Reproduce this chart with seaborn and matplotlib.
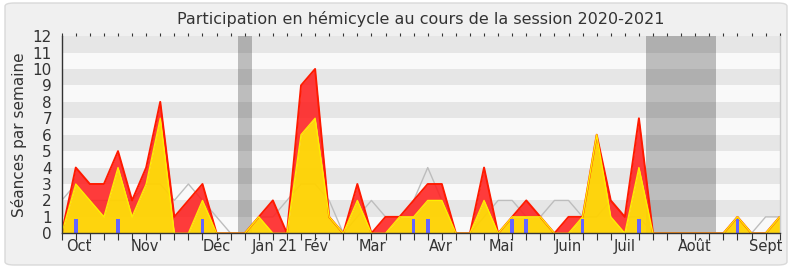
import matplotlib
matplotlib.use("Agg")
import matplotlib.pyplot as plt
from matplotlib.patches import FancyBboxPatch
import numpy as np
import pandas as pd
import seaborn as sns

# ---- data (one value per week, 52 weeks of the 2020-2021 session) ----
total_presence = [0, 4, 3, 3, 5, 2, 4, 8, 1, 2, 3, 0, 0, 0, 1, 2, 0, 9, 10, 1,
                  0, 3, 0, 1, 1, 2, 3, 3, 0, 0, 4, 0, 1, 2, 1, 0, 1, 1, 6, 2,
                  1, 7, 0, 0, 0, 0, 0, 0, 1, 0, 0, 1]
hemicycle_presence = [0, 3, 2, 1, 4, 1, 3, 7, 0, 0, 2, 0, 0, 0, 1, 0, 0, 6, 7, 1,
                      0, 2, 0, 0, 1, 1, 2, 2, 0, 0, 2, 0, 1, 1, 1, 0, 0, 1, 6, 1,
                      0, 4, 0, 0, 0, 0, 0, 0, 1, 0, 0, 1]
median_presence = [2, 3, 2, 2, 2, 2, 3, 3, 2, 3, 2, 1, 0, 0, 1, 1, 2, 3, 3, 2,
                   0, 1, 2, 1, 1, 2, 4, 2, 0, 0, 1, 2, 2, 1, 1, 2, 2, 1, 1, 2,
                   1, 1, 0, 0, 0, 0, 0, 0, 1, 0, 1, 1]
question_weeks = [1, 4, 10, 25, 26, 32, 33, 37, 41, 48]
question_height = 0.87
vacation_spans = [(12.5, 13.5), (41.5, 46.5)]
month_labels = ["Oct", "Nov", "Déc", "Jan 21", "Fév", "Mar", "Avr", "Mai",
                "Juin", "Juil", "Août", "Sept"]
month_positions = [1.2, 5.9, 11.0, 15.1, 18.1, 22.1, 26.9, 31.2, 36.0, 40.0, 45.0, 50.0]
y_ticks = list(range(0, 13))
title = "Participation en hémicycle au cours de la session 2020-2021"
ylabel = "Séances par semaine"

weeks = np.arange(len(total_presence))
df = pd.DataFrame({"week": weeks, "total": total_presence,
                   "hemi": hemicycle_presence, "median": median_presence})

sns.set_style("white")
plt.rcParams["font.family"] = ["DejaVu Sans"]

W, H = 790, 267
fig = plt.figure(figsize=(W / 100, H / 100), dpi=100, facecolor="white")
box = FancyBboxPatch((5 / W, 2 / H), 782 / W, 262 / H,
                     boxstyle="round,pad=0,rounding_size=0.012",
                     transform=fig.transFigure, facecolor="#f0f0f0",
                     edgecolor="#d9d9d9", linewidth=1.0, zorder=-10)
fig.patches.append(box)

x0, x1 = 61.7, 779.7
y0, y1 = 233.3, 36.1
ax = fig.add_axes([x0 / W, 1 - y0 / H, (x1 - x0) / W, (y0 - y1) / H])
ax.set_facecolor("#f9f9f9")

# horizontal stripes
for k in range(1, 12, 2):
    ax.axhspan(k, k + 1, color="#e6e6e6", zorder=0.2, lw=0)
# vacation bands
for a, b in vacation_spans:
    ax.axvspan(a, b, color="black", alpha=0.24, zorder=0.3, lw=0)

# median line
sns.lineplot(data=df, x="week", y="median", ax=ax, color="#bdbdbd",
             linewidth=1.0, zorder=1)
# areas
ax.fill_between(df["week"], df["hemi"], df["total"], color="#ff2020",
                alpha=0.88, lw=0, zorder=2)
ax.fill_between(df["week"], 0, df["hemi"], color="#ffd200",
                alpha=0.95, lw=0, zorder=2.5)
sns.lineplot(data=df, x="week", y="total", ax=ax, color="#ff1a00",
             linewidth=1.4, zorder=3)
sns.lineplot(data=df, x="week", y="hemi", ax=ax, color="#ffee00",
             linewidth=1.0, zorder=3.2)
# question bars
ax.bar(question_weeks, [question_height] * len(question_weeks), width=0.26,
       color="#6464ff", zorder=4, lw=0)

ax.set_xlim(0, len(total_presence) - 1)
ax.set_ylim(0, 12)
ax.xaxis.remove_overlapping_locs = False
ax.set_xticks(weeks)
ax.set_xticklabels([])
ax.set_xticks(month_positions, minor=True)
ax.set_xticklabels(month_labels, minor=True)
ax.tick_params(axis="x", which="major", direction="out", length=5, width=0.8,
               color="#333333", top=True, bottom=True)
ax.tick_params(axis="x", which="minor", length=0, pad=4, labelsize=10.5,
               labelcolor="#333333", top=False, bottom=True)
ax.set_yticks(y_ticks)
ax.tick_params(axis="y", direction="out", length=5, width=0.8, color="#333333",
               labelsize=11, labelcolor="#333333", pad=2)
ax.set_xlabel("")
ax.set_ylabel(ylabel, fontsize=11, color="#333333", labelpad=4)

for s in ["left", "bottom"]:
    ax.spines[s].set_color("#333333")
    ax.spines[s].set_linewidth(1.0)
ax.spines["top"].set_visible(False)
ax.spines["right"].set_color("#cccccc")
ax.spines["right"].set_linewidth(1.0)
for s in ax.spines.values():
    s.set_zorder(5)

fig.text((x0 + x1) / 2 / W, 1 - 19 / H, title, ha="center", va="center",
         fontsize=11.5, color="#333333")

# make top ticks tiny dots
for t in ax.xaxis.get_major_ticks():
    t.tick2line.set_markersize(2)

fig.savefig("out.png", dpi=100, facecolor="white")
